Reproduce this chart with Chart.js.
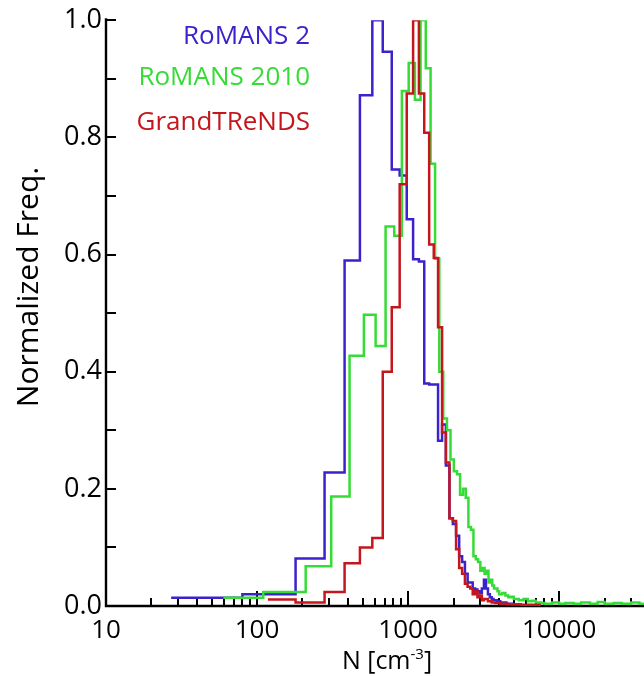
<!DOCTYPE html>
<html>
<head>
<meta charset="utf-8">
<script src="https://cdn.jsdelivr.net/npm/chart.js@4/dist/chart.umd.min.js"></script>
<style>
  html, body { margin: 0; padding: 0; background: #fff; }
  #wrap { width: 644px; height: 676px; }
</style>
</head>
<body>
<div id="wrap"><canvas id="hist" width="644" height="676"></canvas></div>
<script>
// bin edges (cm^-3) and normalized frequency per bin
const romans2Edges = [27, 80, 180, 280, 380, 480, 580, 680, 780, 880, 980, 1080, 1180, 1280, 1380, 1480, 1580, 1680, 1780, 1880,
  1980, 2080, 2180, 2280, 2380, 2480, 2580, 2680, 2780, 2880, 2980, 3080, 3180, 3280, 3380, 3480, 3580, 3680, 3880, 4080,
  4480, 4880, 5480];
const romans2Values = [0.014, 0.02, 0.081, 0.228, 0.59, 0.872, 1.0, 0.946, 0.745, 0.735, 0.66, 0.592, 0.588, 0.38, 0.378, 0.378,
  0.282, 0.31, 0.24, 0.15, 0.14, 0.12, 0.085, 0.075, 0.055, 0.04, 0.04, 0.03, 0.028, 0.025, 0.022, 0.03, 0.045, 0.03, 0.02,
  0.015, 0.012, 0.01, 0.008, 0.006, 0.004, 0.003];

const romans2010Edges = [60, 110, 210, 310, 410, 510, 610, 710, 810, 910, 1010, 1110, 1210, 1310, 1410, 1510, 1610, 1710, 1810,
  1910, 2010, 2110, 2210, 2310, 2410, 2510, 2610, 2710, 2810, 2910, 3010, 3110, 3210, 3310, 3410, 3510, 3610, 3710, 3810, 3910,
  4010, 4210, 4410, 4610, 4810, 5010, 5410, 5810, 6210, 6610, 7010, 7610, 8010, 9010, 10010, 11010, 12510, 14010, 16010, 18010,
  20010, 23010, 26010, 30010, 34010, 37000];
const romans2010Values = [0.014, 0.024, 0.068, 0.187, 0.427, 0.497, 0.444, 0.648, 0.632, 0.879, 0.927, 0.864, 1.0, 0.918, 0.755,
  0.593, 0.40, 0.32, 0.30, 0.25, 0.23, 0.225, 0.19, 0.2, 0.185, 0.135, 0.13, 0.085, 0.08, 0.075, 0.06, 0.065, 0.055, 0.06, 0.04,
  0.045, 0.035, 0.03, 0.03, 0.025, 0.02, 0.022, 0.018, 0.015, 0.016, 0.012, 0.01, 0.012, 0.008, 0.009, 0.006, 0.005, 0.004,
  0.006, 0.004, 0.005, 0.004, 0.006, 0.004, 0.007, 0.004, 0.005, 0.004, 0.006, 0.004];

const grandEdges = [118, 180, 280, 380, 480, 580, 680, 780, 880, 980, 1080, 1180, 1280, 1380, 1480, 1580, 1680, 1780, 1880, 1980,
  2080, 2180, 2280, 2380, 2480, 2580, 2680, 2780, 2880, 2980, 3080, 3180, 3380, 3580, 3780, 4080, 4580, 5580, 7580];
const grandValues = [0.011, 0.006, 0.024, 0.073, 0.10, 0.116, 0.40, 0.51, 0.72, 0.875, 1.0, 0.875, 0.808, 0.617, 0.594, 0.476,
  0.296, 0.245, 0.15, 0.145, 0.097, 0.065, 0.055, 0.038, 0.033, 0.03, 0.02, 0.025, 0.015, 0.018, 0.01, 0.012, 0.008, 0.006,
  0.005, 0.004, 0.003, 0.002];

const seriesNames = ["RoMANS 2", "RoMANS 2010", "GrandTReNDS"];
const seriesColors = ["#3a22cc", "#36dc36", "#c4161c"];

const xTickValues = [10, 100, 1000, 10000];
const xTickLabels = ["10", "100", "1000", "10000"];
const xMinorTicks = [20, 30, 40, 50, 60, 70, 80, 90, 200, 300, 400, 500, 600, 700, 800, 900,
  2000, 3000, 4000, 5000, 6000, 7000, 8000, 9000, 20000, 30000];
const yTickValues = [0, 0.2, 0.4, 0.6, 0.8, 1.0];
const yMinorTicks = [0.1, 0.3, 0.5, 0.7, 0.9];

const FONT = "'Open Sans', 'Noto Sans', sans-serif";

function toSteps(edges, values) {
  return edges.map((x, i) => ({ x: x, y: values[Math.min(i, values.length - 1)] }));
}

const axesPlugin = {
  id: "axes",
  beforeDatasetsDraw(chart) {
    const ctx = chart.ctx;
    const xs = chart.scales.x;
    const ys = chart.scales.y;
    const area = chart.chartArea;

    ctx.save();
    ctx.strokeStyle = "#000";
    ctx.lineWidth = 2.4;
    ctx.beginPath();
    ctx.moveTo(area.left, area.top - 2);
    ctx.lineTo(area.left, area.bottom);
    ctx.lineTo(area.right, area.bottom);
    ctx.stroke();

    ctx.lineWidth = 2;
    ctx.beginPath();
    yTickValues.concat(yMinorTicks).forEach(v => {
      const y = Math.round(ys.getPixelForValue(v));
      ctx.moveTo(area.left, y);
      ctx.lineTo(area.left + 10, y);
    });
    xTickValues.forEach(v => {
      const x = Math.round(xs.getPixelForValue(v));
      ctx.moveTo(x, area.bottom);
      ctx.lineTo(x, area.bottom - 15);
    });
    xMinorTicks.forEach(v => {
      const x = Math.round(xs.getPixelForValue(v));
      ctx.moveTo(x, area.bottom);
      ctx.lineTo(x, area.bottom - 8);
    });
    ctx.stroke();
    ctx.restore();
  },
  afterDraw(chart) {
    const ctx = chart.ctx;

    ctx.save();
    // legend text inside plot
    ctx.font = "26px " + FONT;
    ctx.textAlign = "right";
    ctx.textBaseline = "middle";
    [37, 78, 123].forEach((y, i) => {
      ctx.fillStyle = seriesColors[i];
      ctx.fillText(seriesNames[i], 310, y);
    });

    // y title
    ctx.fillStyle = "#000";
    ctx.font = "30px " + FONT;
    ctx.textAlign = "center";
    ctx.translate(29, 287);
    ctx.rotate(-Math.PI / 2);
    ctx.fillText("Normalized Freq.", 0, 0);
    ctx.restore();

    // x title with superscript
    ctx.save();
    ctx.fillStyle = "#000";
    ctx.textBaseline = "alphabetic";
    ctx.textAlign = "left";
    const main = "25px " + FONT;
    const sup = "15px " + FONT;
    ctx.font = main;
    const w1 = ctx.measureText("N [cm").width;
    const w3 = ctx.measureText("]").width;
    ctx.font = sup;
    const w2 = ctx.measureText("-3").width;
    const x0 = 387 - (w1 + w2 + w3) / 2;
    const base = 669;
    ctx.font = main;
    ctx.fillText("N [cm", x0, base);
    ctx.font = sup;
    ctx.fillText("-3", x0 + w1, base - 10);
    ctx.font = main;
    ctx.fillText("]", x0 + w1 + w2, base);
    ctx.restore();
  }
};

const datasets = [
  { edges: grandEdges, values: grandValues, color: seriesColors[2], order: 0 },
  { edges: romans2010Edges, values: romans2010Values, color: seriesColors[1], order: 1 },
  { edges: romans2Edges, values: romans2Values, color: seriesColors[0], order: 2 }
].map(s => ({
  data: toSteps(s.edges, s.values),
  borderColor: s.color,
  borderWidth: 2.5,
  stepped: "before",
  showLine: true,
  pointRadius: 0,
  fill: false,
  order: s.order
}));

new Chart(document.getElementById("hist"), {
  type: "scatter",
  data: { datasets: datasets },
  options: {
    responsive: false,
    animation: false,
    devicePixelRatio: 1,
    layout: { padding: { top: 16, right: 0, left: 0, bottom: 0 } },
    plugins: {
      legend: { display: false },
      tooltip: { enabled: false }
    },
    scales: {
      x: {
        type: "logarithmic",
        min: 10,
        max: 36500,
        grid: { display: false, drawTicks: false },
        border: { display: false },
        afterFit: s => { s.height = 70; },
        afterBuildTicks: s => { s.ticks = xTickValues.map(v => ({ value: v })); },
        ticks: {
          autoSkip: false,
          maxRotation: 0,
          padding: 9,
          color: "#000",
          font: { family: FONT, size: 26 },
          callback: (v, i) => xTickLabels[i]
        }
      },
      y: {
        min: 0,
        max: 1,
        grid: { display: false, drawTicks: false },
        border: { display: false },
        afterFit: s => { s.width = 106; },
        ticks: {
          stepSize: 0.2,
          padding: 4,
          color: "#000",
          font: { family: FONT, size: 27 },
          callback: v => Number(v).toFixed(1)
        }
      }
    }
  },
  plugins: [axesPlugin]
});
</script>
</body>
</html>
